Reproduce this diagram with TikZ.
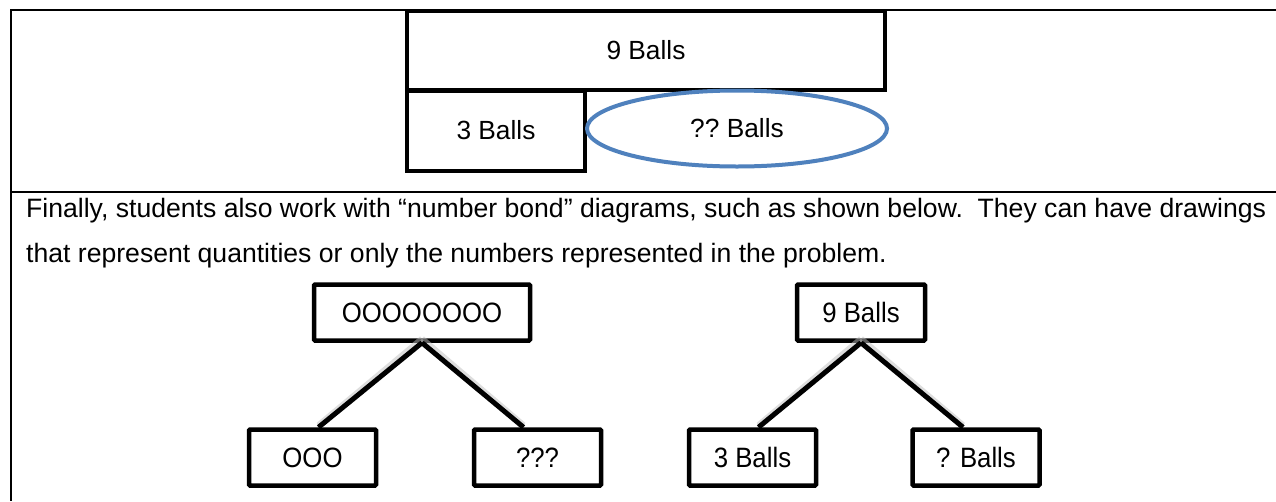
\documentclass[tikz,border=0pt]{standalone}
\usepackage{fontspec}
\setmainfont{Liberation Sans}
\newfontfamily\bondfont[FakeStretch=0.92]{Liberation Sans}
\usetikzlibrary{shapes.geometric}
\definecolor{ellblue}{HTML}{4F81BD}
\begin{document}
\begin{tikzpicture}[x=1pt,y=-1pt,
  tabline/.style={line width=2pt,black},
  barbox/.style={draw,line width=4pt,rectangle,inner sep=0pt,font=\fontsize{26.3}{30}\selectfont},
  bondbox/.style={draw,line width=4.5pt,rectangle,rounded corners=1pt,inner sep=0pt,minimum height=56pt,font=\bondfont\fontsize{28}{32}\selectfont},
  bondline/.style={line width=5pt,black},
  bondshadow/.style={line width=6pt,black!25,opacity=0.5},
  para/.style={anchor=base west,inner sep=0pt,font=\fontsize{26.6}{30}\selectfont}]
\useasboundingbox (0,0) rectangle (1276,501);
\fill[white] (0,0) rectangle (1276,501);
% table lines
\draw[tabline] (11,10) -- (1276,10);
\draw[tabline] (11,192) -- (1276,192);
\draw[tabline] (11,9) -- (11,501);
% tape diagram
\node[barbox,minimum width=478pt,minimum height=79pt] (nine) at (646,50.5) {9 Balls};
\node[barbox,minimum width=178pt,minimum height=80pt] (three) at (496,130.5) {3 Balls};
\node[ellipse,draw=ellblue,line width=4pt,minimum width=300pt,minimum height=76pt,inner sep=0pt,font=\fontsize{26.3}{30}\selectfont] (unk) at (737,128.5) {??~Balls};
% paragraph
\node[para] (l1) at (26,217) {Finally, students also work with “number bond” diagrams, such as shown below.\ \ They can have drawings};
\node[para] (l2) at (26,262) {that represent quantities or only the numbers represented in the problem.};
% bond diagram 1
\node[bondbox,minimum width=216pt] (t1) at (422,312.5) {OOOOOOOO};
\node[bondbox,minimum width=127pt] (a1) at (312.5,457.5) {OOO};
\node[bondbox,minimum width=127pt] (b1) at (537.5,457.5) {???};
% bond diagram 2
\node[bondbox,minimum width=128pt] (t2) at (861,312.5) {9 Balls};
\node[bondbox,minimum width=127pt] (a2) at (752.5,457.5) {3 Balls};
\node[bondbox,minimum width=127pt] (b2) at (976,457.5) {? Balls};
% shadows
\draw[bondshadow] ([yshift=4pt]t1.south) -- ([xshift=6pt,yshift=2pt]a1.north);
\draw[bondshadow] ([yshift=4pt]t1.south) -- ([xshift=-14pt,yshift=2pt]b1.north);
\draw[bondshadow] ([yshift=4pt]t2.south) -- ([xshift=6pt,yshift=2pt]a2.north);
\draw[bondshadow] ([yshift=4pt]t2.south) -- ([xshift=-13pt,yshift=2pt]b2.north);
% connectors
\draw[bondline] (t1.south) -- ([xshift=6pt]a1.north);
\draw[bondline] (t1.south) -- ([xshift=-14pt]b1.north);
\draw[bondline] (t2.south) -- ([xshift=6pt]a2.north);
\draw[bondline] (t2.south) -- ([xshift=-13pt]b2.north);
\end{tikzpicture}
\end{document}
